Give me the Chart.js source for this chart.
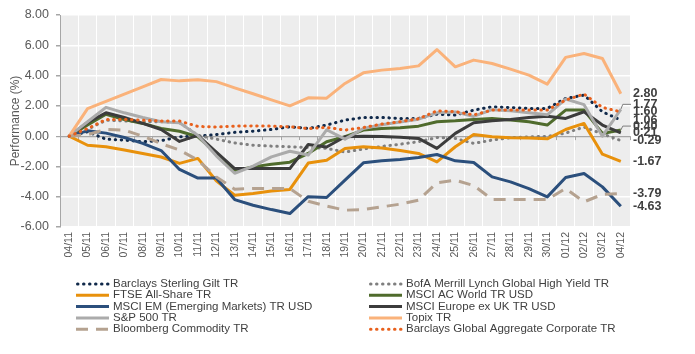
<!DOCTYPE html>
<html>
<head>
<meta charset="utf-8">
<title>Performance</title>
<script src="https://cdn.jsdelivr.net/npm/chart.js@4.4.1/dist/chart.umd.min.js"></script>
<style>
    html, body { margin: 0; padding: 0; background: #fff; }
    #wrap { width: 695px; height: 354px; }
</style>
</head>
<body>
<div id="wrap"><canvas id="perfChart" width="695" height="354"></canvas></div>
<script>
const dates = ['04/11', '05/11', '06/11', '07/11', '08/11', '09/11', '10/11', '11/11', '12/11', '13/11',
    '14/11', '15/11', '16/11', '17/11', '18/11', '19/11', '20/11', '21/11', '22/11', '23/11',
    '24/11', '25/11', '26/11', '27/11', '28/11', '29/11', '30/11', '01/12', '02/12', '03/12', '04/12'];

const yTicks = [-6, -4, -2, 0, 2, 4, 6, 8];

const giltTR = [0, 0.29, -0.2, -0.26, -0.37, -0.3, -0.04, 0.0, 0.1, 0.25, 0.33, 0.44, 0.62, 0.51, 0.73, 1.06,
    1.23, 1.23, 1.17, 1.17, 1.45, 1.39, 1.72, 1.94, 1.89, 1.83, 1.83, 2.49, 2.71, 1.61, 1.06];
const highYieldTR = [0, 0.45, 1.05, 1.0, 0.95, 0.95, 0.9, 0.05, -0.2, -0.45, -0.6, -0.66, -0.7, -0.75, -0.81, -1.05,
    -0.85, -0.68, -0.53, -0.37, -0.09, -0.15, -0.48, -0.26, -0.11, -0.04, -0.02, 0.2, 0.6, 0.15, -0.29];
const ftseAllShare = [0, -0.6, -0.7, -0.92, -1.14, -1.38, -1.8, -1.47, -2.95, -3.9, -3.79, -3.63, -3.52, -1.78, -1.59, -0.81,
    -0.7, -0.78, -0.95, -1.14, -1.7, -0.7, 0.11, -0.04, -0.11, -0.13, -0.18, 0.44, 0.84, -1.19, -1.67];
const acWorld = [0, 0.73, 1.45, 1.1, 0.84, 0.51, 0.32, -0.04, -1.1, -2.27, -2.03, -1.85, -1.72, -1.14, -0.37, -0.04,
    0.4, 0.51, 0.55, 0.66, 0.95, 1.01, 1.1, 1.17, 1.06, 0.95, 0.73, 1.72, 1.72, 0.18, 0.40];
const emergingMkts = [0, 0.35, 0.2, -0.09, -0.48, -0.95, -2.2, -2.77, -2.77, -4.19, -4.56, -4.85, -5.11, -4.0, -4.05, -2.9,
    -1.76, -1.63, -1.54, -1.41, -1.21, -1.63, -1.74, -2.69, -3.02, -3.46, -4.01, -2.73, -2.47, -3.35, -4.63];
const europeExUK = [0, 0.9, 1.54, 1.23, 0.84, 0.44, -0.35, 0.05, -1.05, -2.14, -2.14, -2.14, -2.14, -0.55, -0.72, -0.04,
    0.0, -0.03, -0.08, -0.15, -0.81, 0.18, 0.88, 1.01, 1.1, 1.23, 1.32, 1.17, 1.61, 0.73, 0.21];
const sp500 = [0, 0.95, 1.9, 1.54, 1.23, 0.95, 0.88, 0.05, -1.3, -2.45, -1.98, -1.37, -1.0, -1.25, 0.42, -0.2,
    0.5, 0.75, 0.94, 1.12, 1.54, 1.6, 1.3, 1.75, 1.67, 1.54, 1.41, 2.45, 2.08, 0.0, 1.77];
const topix = [0, 1.82, 2.3, 2.78, 3.26, 3.74, 3.65, 3.72, 3.6, 3.19, 2.8, 2.4, 2.0, 2.53, 2.51, 3.48,
    4.18, 4.36, 4.47, 4.64, 5.72, 4.58, 5.02, 4.8, 4.43, 4.03, 3.43, 5.2, 5.46, 5.13, 2.80];
const commodity = [0, 0.1, 0.45, 0.4, 0.0, -0.5, -0.92, -1.59, -2.69, -3.5, -3.46, -3.46, -3.46, -4.3, -4.62, -4.89,
    -4.85, -4.67, -4.49, -4.23, -3.08, -2.91, -3.26, -4.18, -4.18, -4.18, -4.18, -3.46, -4.34, -3.85, -3.79];
const globalCorp = [0, 0.5, 1.1, 1.1, 1.05, 1.0, 1.0, 0.64, 0.6, 0.66, 0.68, 0.66, 0.62, 0.5, 0.58, 0.4,
    0.57, 0.8, 0.95, 1.15, 1.67, 1.62, 1.4, 1.72, 1.72, 1.72, 1.72, 2.38, 2.78, 1.9, 1.60];

const seriesNames = ['Barclays Sterling Gilt TR', 'BofA Merrill Lynch Global High Yield TR', 'FTSE All-Share TR',
    'MSCI AC World TR USD', 'MSCI EM (Emerging Markets) TR USD', 'MSCI Europe ex UK TR USD', 'S&P 500 TR',
    'Topix TR', 'Bloomberg Commodity TR', 'Barclays Global Aggregate Corporate TR'];
const seriesValues = [giltTR, highYieldTR, ftseAllShare, acWorld, emergingMkts, europeExUK, sp500, topix, commodity, globalCorp];

// looks
const DOT = [0.5, 5.5], DASH = [12, 8];
const looks = [
    { color: '#10294A', dash: DOT },
    { color: '#7F7F7F', dash: DOT },
    { color: '#E8910C', dash: [] },
    { color: '#4F6B2C', dash: [] },
    { color: '#2B4F7C', dash: [] },
    { color: '#3C3C3C', dash: [] },
    { color: '#ABABAB', dash: [] },
    { color: '#FAB27A', dash: [] },
    { color: '#B5A290', dash: DASH },
    { color: '#E8601C', dash: DOT }
];
const labelNudge = [0, 0, 0, -4, 0, 0, -5, 0, 0, 0];
const FONT = "'Liberation Sans', Arial, sans-serif";

const plotBg = {
    id: 'plotBg',
    beforeDraw(chart) {
        const { ctx, chartArea: a } = chart;
        ctx.save();
        ctx.fillStyle = '#EDEDED';
        ctx.fillRect(a.left, a.top, a.right - a.left, a.bottom - a.top);
        ctx.restore();
    }
};

// little tick marks where the category axis crosses zero
const zeroTicks = {
    id: 'zeroTicks',
    beforeDatasetsDraw(chart) {
        const { ctx, scales } = chart;
        const y0 = scales.y.getPixelForValue(0);
        const step = scales.x.getPixelForValue(1) - scales.x.getPixelForValue(0);
        ctx.save();
        ctx.strokeStyle = '#A6A6A6';
        ctx.lineWidth = 1;
        ctx.beginPath();
        for (let i = 0; i <= dates.length; i++) {
            const x = Math.round(scales.x.getPixelForValue(0) - step / 2 + i * step) + 0.5;
            ctx.moveTo(x, y0);
            ctx.lineTo(x, y0 + 4);
        }
        ctx.stroke();
        ctx.restore();
    }
};

const endLabels = {
    id: 'endLabels',
    afterDatasetsDraw(chart) {
        const { ctx, chartArea: a, scales } = chart;
        const last = dates.length - 1;
        ctx.save();
        ctx.font = 'bold 12.5px ' + FONT;
        ctx.fillStyle = '#404040';
        ctx.textBaseline = 'middle';
        seriesValues.forEach((vals, i) => {
            const v = vals[last];
            const y = scales.y.getPixelForValue(v) + labelNudge[i];
            ctx.fillText(v.toFixed(2), a.right + 3, y);
            if (labelNudge[i]) {
                const px = scales.x.getPixelForValue(last);
                ctx.strokeStyle = '#7F7F7F';
                ctx.lineWidth = 1;
                ctx.beginPath();
                ctx.moveTo(px, scales.y.getPixelForValue(v));
                ctx.lineTo(px + 2, y);
                ctx.lineTo(a.right + 1, y);
                ctx.stroke();
            }
        });
        ctx.restore();
    }
};

const sideLegend = {
    id: 'sideLegend',
    afterDraw(chart) {
        const ctx = chart.ctx;
        ctx.save();
        ctx.font = '11.5px ' + FONT;
        ctx.textBaseline = 'middle';
        seriesNames.forEach((name, i) => {
            const col = i % 2, row = Math.floor(i / 2);
            const x0 = col ? 369 : 76;
            const y = 284 + row * 11.3;
            ctx.strokeStyle = looks[i].color;
            ctx.lineWidth = 3;
            ctx.setLineDash(looks[i].dash);
            ctx.lineCap = looks[i].dash === DOT ? 'round' : 'butt';
            ctx.beginPath();
            ctx.moveTo(x0 + (looks[i].dash === DOT ? 1.5 : 0), y);
            ctx.lineTo(x0 + 33, y);
            ctx.stroke();
            ctx.setLineDash([]);
            ctx.fillStyle = '#404040';
            ctx.fillText(name, x0 + 37, y);
        });
        ctx.restore();
    }
};

const n = seriesNames.length;
const datasets = seriesNames.map((name, i) => ({
    label: name,
    data: seriesValues[i],
    borderColor: looks[i].color,
    backgroundColor: looks[i].color,
    borderWidth: 3,
    borderDash: looks[i].dash,
    borderCapStyle: looks[i].dash === DOT ? 'round' : 'butt',
    borderJoinStyle: 'round',
    pointRadius: 0,
    tension: 0,
    fill: false,
    order: n - i
}));

new Chart(document.getElementById('perfChart').getContext('2d'), {
    type: 'line',
    data: { labels: dates, datasets },
    plugins: [plotBg, zeroTicks, endLabels, sideLegend],
    options: {
        responsive: false,
        animation: false,
        layout: { padding: { top: 15, right: 65, bottom: 0, left: 0 } },
        plugins: { legend: { display: false }, tooltip: { enabled: false } },
        scales: {
            x: {
                offset: true,
                grid: { offset: true, color: '#FFFFFF', lineWidth: 1, drawTicks: false },
                border: { display: false },
                ticks: { autoSkip: false, maxRotation: 90, minRotation: 90, padding: 5, color: '#595959', font: { family: FONT, size: 10.5 } },
                afterFit: s => { s.height = 127; }
            },
            y: {
                min: yTicks[0],
                max: yTicks[yTicks.length - 1],
                afterBuildTicks: s => { s.ticks = yTicks.map(v => ({ value: v })); },
                grid: {
                    color: c => c.tick && c.tick.value === 0 ? '#A6A6A6' : '#FFFFFF',
                    lineWidth: c => c.tick && c.tick.value === 0 ? 1.2 : 1.5,
                    tickColor: '#A6A6A6',
                    tickLength: 4
                },
                border: { display: true, color: '#A6A6A6', width: 1 },
                ticks: { padding: 7, color: '#595959', font: { family: FONT, size: 12.5 }, callback: v => Number(v).toFixed(2) },
                title: { display: true, text: 'Performance (%)', color: '#595959', font: { family: FONT, size: 12 }, padding: { top: 8, bottom: 0 } },
                afterFit: s => { s.width = 60; }
            }
        }
    }
});
</script>
</body>
</html>
